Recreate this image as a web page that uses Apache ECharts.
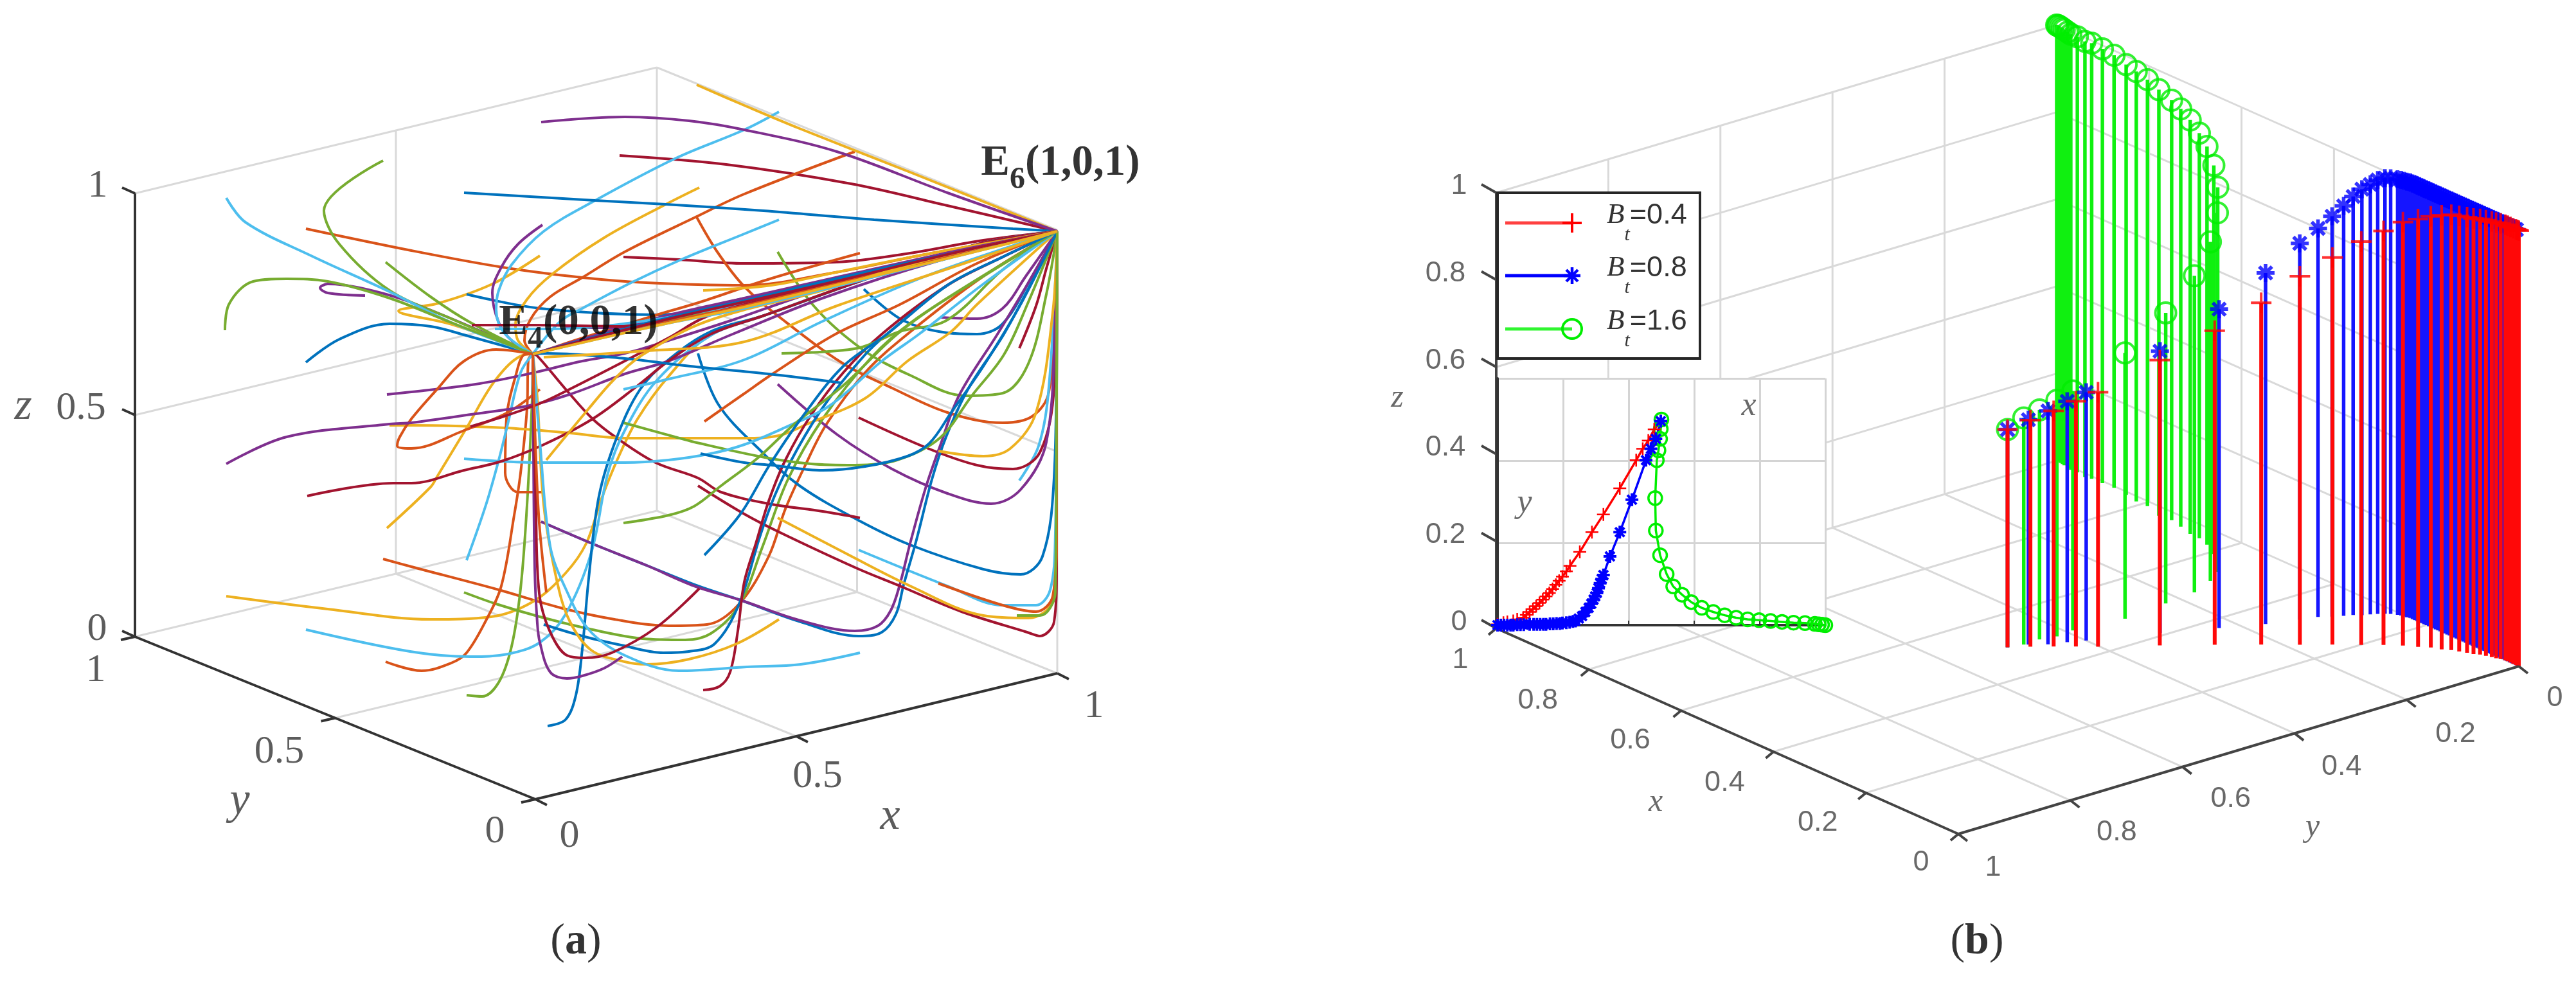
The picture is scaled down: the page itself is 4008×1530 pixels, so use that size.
<!DOCTYPE html>
<html><head><meta charset="utf-8">
<style>html,body{margin:0;padding:0;background:#fff}#c{width:4008px;height:1530px}</style>
<script src="https://cdn.jsdelivr.net/npm/echarts@6/dist/echarts.min.js"></script>
</head><body><div id="c"></div>
<script>
// ---------- panel (a): trajectories, in view-plane units of the hidden axes
const E4=[414.5,275.5], E6=[822.5,180];
const trajBlue=[
[[238,282],[264,264],[303,252],[335,254],[366,262],E4],
[[363,229],[420,240],[513,245],[580,232],[680,212],[760,194],E6],
[[361,150],[463,156],[518,159],[594,164],[680,171],[788,178],E6],
[[672,225],[702,249],[737,259],[760,260],[780,252],[803,215],E6],
[[543,275],[559,315],[593,352],[622,378],[668,405],[708,424],[765,443],[794,447],[811,433],[820,372],[822,272],E6],
[[421,406],[463,424],[503,440],[543,456],[576,467],[623,484],[668,495],[686,492],[697,478],[703,455],[713,420],[725,373],[736,340],[753,303],[781,260],[805,215],E6],
[[423,486],[453,495],[483,502],[516,508],[536,507],[556,501],[575,470],[591,418],[603,385],[620,350],[643,313],[673,276],[690,260],[737,222],[780,200],E6],
[[426,565],[440,560],[448,541],[453,505],[458,450],[466,386],[480,340],[498,303],[520,280],[553,258],[593,246],[680,215],[765,189],E6],
[[545,353],[579,360],[600,362],[640,366],[673,363],[706,355],[723,345],[740,321],[765,285],[795,235],E6],
[[548,432],[576,400],[598,363],[623,326],[656,285],[690,260],[737,222],[780,200],E6],
[[655,298],[598,291],[537,285],[486,279],[426,275],E4],
[E4,[513,249],[579,234],[650,217],[750,195],E6]];
const trajOrange=[
[[238,178],[320,195],[391,208],[453,216],[503,220],[579,222],[650,212],[725,197],E6],
[[665,118],[579,151],[541,169],[486,196],[453,216],[428,231],[413,248],[408,265],E4],
[[542,169],[558,196],[579,223],[608,248],[656,283],[694,302],[737,321],[780,329],[803,324],[816,305],[822,215],E6],
[[298,435],[320,441],[388,459],[436,473],[478,482],[520,487],[550,486],[575,470],[598,433],[611,396],[626,363],[643,330],[673,290],[706,260],[765,215],E6],
[[669,197],[599,217],[545,235],[511,245],[450,264],[420,274],E4],
[[300,515],[328,522],[351,516],[363,508],[378,483],[390,456],[400,401],[405,368],[410,318],[411,280],E4],
[[423,383],[403,383],[393,368],[394,326],[401,293],[408,276],E4],
[[420,303],[395,321],[361,335],[320,349],[309,347],[311,340],[320,326],[340,303],[361,281],[386,272],E4],
[[548,328],[578,307],[601,291],[650,260],[700,237],[760,205],E6],
[[730,454],[780,471],[806,476],[819,464],[822,415],[822,300],E6],
[[425,461],[419,400],[415,300],E4],
[E4,[513,252],[579,238],[650,221],[750,197],E6]];
const trajYellow=[
[[420,199],[383,221],[341,236],[310,242],[350,252],[385,264],E4],
[[544,146],[518,159],[470,185],[430,213],[410,233],[401,253],[403,265],E4],
[[542,66],[579,82],[622,100],[708,134],E6],
[[176,464],[255,474],[335,482],[382,480],[415,468],[440,446],[456,423],[468,388],[481,356],[496,326],[520,293],[553,260],[593,246],[680,215],[765,189],E6],
[[301,411],[335,379],[340,371],[363,333],[386,295],[408,276],E4],
[[303,331],[320,331],[393,333],[443,337],[486,341],[536,341],[579,341],[606,339],[628,330],[673,310],[706,281],[740,258],[760,237],E6],
[[730,351],[765,355],[786,349],[806,321],[819,243],E6],
[[605,403],[651,427],[708,456],[765,479],[800,481],[819,467],[822,400],[822,260],E6],
[[606,482],[573,501],[536,513],[503,517],[486,515],[460,506],[443,483],[433,451],[423,393],[418,310],E4],
[[547,226],[600,222],[650,212],[725,197],E6],
[[423,278],[503,273],[579,266],[651,238],[750,205],E6],
[[425,358],[458,318],[478,295],[500,276],[550,250],[640,226],[730,200],E6],
[E4,[513,253],[579,239],[650,222],[750,198],E6]];
const trajPurple=[
[[284,230],[255,228],[249,224],[255,221],[280,224],[319,235],E4],
[[422,175],[403,190],[390,208],[383,228],[388,251],[398,265],E4],
[[421,95],[486,91],[536,94],[579,101],[651,118],[737,150],E6],
[[732,247],[760,248],[780,240],[798,215],E6],
[[605,299],[651,338],[694,365],[737,384],[771,392],[794,381],[814,344],[821,243],E6],
[[421,406],[463,424],[503,440],[540,456],[576,467],[623,483],[665,491],[683,487],[693,475],[700,455],[708,423],[720,380],[731,348],[746,308],[776,260],[800,220],E6],
[[301,307],[320,305],[370,299],[411,291],[453,281],[486,275],[520,265],[570,249],[640,225],[730,200],E6],
[[176,361],[223,340],[303,330],[320,329],[370,322],[410,316],[443,307],[486,291],[520,281],[570,260],[640,232],[730,203],E6],
[[484,511],[470,520],[453,526],[441,528],[428,523],[420,500],[418,485],[416,443],[415,350],E4],
[[440,255],[486,255],[536,246],[600,232],[680,212],[760,194],E6],
[E4,[513,247],[579,232],[650,216],[750,194],E6]];
const trajGreen=[
[[298,125],[252,164],[264,190],[303,226],[351,248],E4],
[[300,204],[335,231],[366,251],E4],
[[175,257],[178,237],[197,219],[223,217],[255,219],[303,232],[351,251],E4],
[[605,196],[633,238],[671,272],[708,292],[751,308],[780,306],[800,283],[814,229],E6],
[[361,461],[386,470],[420,480],[461,490],[500,497],[533,498],[553,493],[575,471],[593,426],[613,373],[640,326],[678,278],[710,250],[765,215],E6],
[[363,541],[375,542],[388,531],[398,503],[405,458],[410,393],[414,310],E4],
[[485,329],[525,340],[540,344],[595,356],[631,361],[665,362],[698,358],[731,341],[756,308],[781,276],[800,235],E6],
[[608,275],[667,271],[700,258],[737,249],[780,210],E6],
[[485,407],[520,401],[540,394],[561,378],[590,356],[618,330],[656,300],[698,260],[737,232],E6],
[[791,479],[809,479],[821,461],[822,300],E6],
[E4,[513,251],[579,236],[650,220],[750,196],E6]];
const trajCyan=[
[[176,154],[191,173],[242,199],[303,227],[351,251],E4],
[[606,87],[579,101],[526,123],[463,156],[423,180],[398,206],[388,226],[386,241],[393,260],E4],
[[606,171],[579,182],[530,202],[491,220],[453,240],[436,250],E4],
[[793,374],[808,347],[816,301],E6],
[[668,428],[737,456],[780,471],[806,471],[817,459],[821,415],[822,301],E6],
[[238,490],[319,507],[366,511],[395,509],[420,500],[440,478],[460,430],[473,368],[486,335],[511,296],[553,261],[593,246],[680,215],[765,189],E6],
[[363,436],[378,393],[388,358],[395,330],[405,290],E4],
[[361,357],[420,360],[486,360],[520,358],[553,353],[579,346],[610,333],[645,316],[686,281],[715,260],[765,221],E6],
[[669,508],[623,517],[581,519],[528,522],[486,510],[458,490],[440,458],[428,425],[420,344],E4],
[[485,303],[520,295],[579,280],[640,250],[720,215],E6],
[[385,256],[428,256],[500,250],[600,232],[680,212],[760,194],E6],
[E4,[513,253],[579,240],[650,223],[750,198],E6]];
const trajRed=[
[[482,121],[565,128],[662,143],[737,160],E6],
[[485,200],[528,202],[579,205],[651,204],[708,197],[765,187],E6],
[[793,271],[806,238],[814,209],E6],
[[668,325],[722,349],[760,362],[788,365],[809,352],[820,301],E6],
[[669,403],[640,398],[598,392],[561,383],[543,372],[510,360],[480,341],[461,326],[441,304],[418,277],E4],
[[543,378],[579,400],[606,414],[666,442],[700,456],[748,476],[799,492],[809,495],[820,484],[822,444],[822,300],E6],
[[547,537],[560,534],[568,523],[574,491],[579,453],[588,423],[598,390],[611,358],[631,323],[656,290],[686,260],[737,222],[780,200],E6],
[[239,386],[306,376],[320,376],[361,366],[390,359],[423,346],[461,326],[495,301],[520,281],[553,260],[593,246],[680,215],[765,189],E6],
[[366,332],[395,323],[420,314],[441,304],[486,281],[520,263],[553,245],[640,222],[730,199],E6],
[[544,458],[511,488],[476,508],[455,512],[441,510],[430,496],[421,471],[418,441],[417,400],[415,300],E4],
[[367,253],[416,253],[486,254],[600,232],[700,207],E6],
[E4,[513,250],[579,235],[650,219],[750,195],E6]];
const trajColors=['#0072BD','#D95319','#EDB120','#7E2F8E','#77AC30','#4DBEEE','#A2142F'];
const trajGroups=[trajBlue,trajOrange,trajYellow,trajPurple,trajGreen,trajCyan,trajRed];

// ---------- panel (b): stem points [x, y, z]
const stemRed=[[.5,.5,.5],[.482,.474,.52],[.462,.449,.541],[.443,.425,.563],[.423,.402,.584],[.373,.333,.655],[.327,.273,.721],[.287,.223,.785],[.253,.182,.846],[.225,.147,.889],[.199,.117,.926],[.18,.093,.95],[.161,.074,.972],[.144,.061,.982],[.131,.049,.99],[.116,.042,.997],[.106,.033,.999],[.095,.028,1],[.084,.023,1],[.075,.019,1],[.068,.013,1],[.059,.01,1],[.05,.007,1],[.043,.005,1],[.037,.002,1],[.029,0,1],[.024,0,1],[.018,0,1],[.012,0,1],[.006,0,1],[.003,0,1],[0,0,1]];
const stemBlue=[[.5,.5,.5],[.49,.471,.516],[.473,.45,.536],[.463,.424,.553],[.451,.4,.57],[.409,.303,.647],[.372,.228,.732],[.343,.169,.806],[.326,.122,.864],[.318,.096,.892],[.307,.08,.919],[.299,.066,.941],[.293,.054,.961],[.285,.045,.978],[.28,.034,.987],[.275,.025,.996],[.269,.017,1],[.264,.011,1],[.255,.006,1],[.25,.004,1],[.245,.003,1],[.24,.002,1],[.235,0,1],[.23,0,1],[.225,0,1],[.22,0,1],[.215,0,1],[.21,0,1],[.205,0,1],[.2,0,1],[.195,0,1],[.19,0,1],[.185,0,1],[.18,0,1],[.175,0,1],[.17,0,1],[.165,0,1],[.16,0,1],[.155,0,1],[.15,0,1],[.145,0,1],[.14,0,1],[.135,0,1],[.13,0,1],[.125,0,1],[.12,0,1],[.115,0,1],[.11,0,1],[.105,0,1],[.1,0,1],[.095,0,1],[.09,0,1],[.085,0,1],[.08,0,1],[.075,0,1],[.07,0,1],[.065,0,1],[.06,0,1],[.055,0,1],[.05,0,1],[.045,0,1],[.04,0,1],[.035,0,1],[.03,0,1],[.025,0,1],[.02,0,1],[.015,0,1],[.01,0,1],[.005,0,1]];
const stemGreen=[[.5,.5,.5],[.494,.476,.52],[.495,.447,.527],[.489,.421,.542],[.492,.39,.55],[.481,.306,.61],[.49,.226,.667],[.497,.169,.727],[.517,.124,.778],[.537,.095,.824],[.563,.073,.862],[.592,.056,.892],[.625,.041,.914],[.65,.034,.93],[.671,.033,.95],[.7,.026,.959],[.727,.02,.964],[.751,.023,.978],[.789,.012,.979],[.812,.013,.987],[.84,.008,.988],[.871,.004,.993],[.895,.005,.997],[.917,.006,1],[.928,.009,1],[.948,.006,1],[.961,.007,1],[.97,.005,1],[.98,.003,1],[.985,.002,1],[.99,.001,1],[.995,0,1],[.998,0,1],[1,0,1]];

// ---------- inset: [horizontal, vertical] on its own axes
const insetRed=[[0,.002],[.018,.006],[.03,.008],[.048,.01],[.06,.014],[.078,.018],[.088,.025],[.098,.032],[.108,.039],[.118,.046],[.128,.054],[.138,.062],[.148,.07],[.158,.078],[.168,.088],[.178,.098],[.188,.108],[.198,.118],[.21,.131],[.221,.144],[.251,.178],[.288,.226],[.323,.269],[.373,.333],[.423,.401],[.443,.429],[.46,.449],[.478,.476],[.498,.496]];
const insetBlue=[[0,0],[.01,0],[.02,0],[.03,0],[.04,0],[.048,0],[.06,.001],[.07,.001],[.08,.001],[.098,.002],[.11,.002],[.12,.002],[.13,.002],[.14,.002],[.148,.002],[.16,.003],[.17,.003],[.18,.004],[.19,.004],[.198,.005],[.21,.006],[.22,.007],[.23,.009],[.238,.01],[.248,.016],[.258,.022],[.268,.032],[.278,.042],[.286,.052],[.293,.062],[.298,.07],[.303,.078],[.308,.09],[.313,.102],[.318,.112],[.323,.122],[.343,.167],[.373,.226],[.41,.305],[.453,.401],[.468,.429],[.483,.453],[.498,.496]];
const insetGreen=[[.5,.5],[.498,.477],[.496,.453],[.491,.425],[.486,.401],[.481,.309],[.483,.23],[.496,.17],[.516,.124],[.536,.094],[.563,.074],[.591,.056],[.623,.042],[.658,.032],[.693,.024],[.728,.018],[.763,.014],[.798,.012],[.833,.01],[.868,.008],[.903,.006],[.938,.005],[.968,.003],[.98,.002],[.99,.001],[1,0]];

// ---------- axes ticks and texts
const aTicks=[0,.5,1], aTickText=['0','0.5','1'];
const bTicks=[0,.2,.4,.6,.8,1], bTickText=['0','0.2','0.4','0.6','0.8','1'];
const aZOff=[[-59,-11],[-84,-10],[-58,-11]], aYOff=[[-63,51],[-87,53],[-61,53]], aXOff=[[53,58],[33,63],[57,52]];
const bZOff=[[-58,-9],[-79,-10],[-79,-10],[-79,-10],[-79,-10],[-58,-10]];
const bXOff=[[-58,45],[-75,47],[-76,49],[-79,47],[-79,49],[-56,50]];
const bYOff=[[56,50],[76,53],[73,52],[75,50],[72,50],[54,53]];
const legendText=['=0.4','=0.8','=1.6'];

// ---------- projections of the cube coordinates onto the hidden view-plane axes
const Pa=(x,y,z)=>[(833+812*x-623*y)/2,(1244-196*x-253*y-690*z)/2];
const Pb=(x,y,z)=>[(3919-719*x-872*y)/2,(1037-320*x+261*y-678*z)/2];
const gap=[NaN,NaN];
const add=(p,o)=>[p[0]+o[0]/2,p[1]+o[1]/2];
const seg=(o,a,b)=>{o.push(a,b,gap)};

// grids
const gridA=[],axisA=[],gridB=[],axisB=[];
[.5,1].forEach(v=>{
  seg(gridA,Pa(v,1,0),Pa(v,1,1));
  seg(gridA,Pa(1,1-v,0),Pa(1,1-v,1));
  seg(gridA,Pa(0,1,v),Pa(1,1,v)); seg(gridA,Pa(1,1,v),Pa(1,0,v));
  seg(gridA,Pa(v,0,0),Pa(v,1,0)); seg(gridA,Pa(0,v,0),Pa(1,v,0));
});
seg(axisA,Pa(0,1,0),Pa(0,1,1)); seg(axisA,Pa(0,1,0),Pa(0,0,0)); seg(axisA,Pa(0,0,0),Pa(1,0,0));
aTicks.forEach(t=>{
  const z=Pa(0,1,t); seg(axisA,z,add(z,[-20,-9]));
  const y=Pa(0,t,0); seg(axisA,y,add(y,[-22,5]));
  const x=Pa(t,0,0); seg(axisA,x,add(x,[18,9]));
});
bTicks.forEach(t=>{
  seg(gridB,Pb(1,t,0),Pb(1,t,1)); seg(gridB,Pb(t,0,0),Pb(t,0,1));
  seg(gridB,Pb(1,1,t),Pb(1,0,t)); seg(gridB,Pb(1,0,t),Pb(0,0,t));
  seg(gridB,Pb(t,0,0),Pb(t,1,0)); seg(gridB,Pb(0,t,0),Pb(1,t,0));
  const z=Pb(1,1,t); seg(axisB,z,add(z,[-23,-13]));
  const x=Pb(t,1,0); seg(axisB,x,add(x,[-12,10]));
  const y=Pb(0,t,0); seg(axisB,y,add(y,[14,11]));
});
seg(axisB,Pb(1,1,0),Pb(1,1,1)); seg(axisB,Pb(1,1,0),Pb(0,1,0)); seg(axisB,Pb(0,1,0),Pb(0,0,0));

const plain=(data,color,width,z,extra)=>Object.assign({type:'line',data,xAxisIndex:0,yAxisIndex:0,showSymbol:false,symbol:'none',clip:false,silent:true,z,
  lineStyle:{color,width,cap:'butt'},animation:false},extra||{});
const labels=(data,font,z,rich)=>({type:'scatter',xAxisIndex:0,yAxisIndex:0,data,symbolSize:1,itemStyle:{color:'rgba(0,0,0,0)'},z:z||10,clip:false,silent:true,animation:false,
  label:Object.assign({show:true,position:'inside',align:'center',verticalAlign:'middle',formatter:p=>p.data[2],rich:rich||{}},font)});

const series=[];
series.push(plain(gridA,'#d9d9d9',3,1),plain(gridB,'#d9d9d9',3,1));
series.push(plain(axisA,'#333',4,3),plain(axisB,'#444',4,3));

// trajectories, cycling through the colour order
const maxN=Math.max(...trajGroups.map(g=>g.length));
for(let i=0;i<maxN;i++){trajGroups.forEach((g,k)=>{ if(g[i]) series.push(plain(g[i],trajColors[k],4,2,{smooth:.35})); });}

// stems and their markers
const stems=list=>{const o=[];list.forEach(p=>seg(o,Pb(p[0],p[1],0),Pb(p[0],p[1],p[2])));return o;};
const tops=list=>list.map(p=>Pb(p[0],p[1],p[2]));
const PLUS='path://M-2,-16H2V16H-2Z M-16,-2H16V2H-16Z';
const STAR='path://M-2,-10H2V10H-2Z M-10,-2H10V2H-10Z M-8.5,-5.7L-5.7,-8.5L8.5,5.7L5.7,8.5Z M5.7,-8.5L8.5,-5.7L-5.7,8.5L-8.5,5.7Z';
const mark=(data,symbol,size,style,z)=>({type:'scatter',data,symbol,symbolSize:size,itemStyle:style,z,clip:false,silent:true,animation:false,xAxisIndex:0,yAxisIndex:0});
series.push(plain(stems(stemGreen),'#10f010',5.5,2));
series.push(mark(tops(stemGreen),'circle',32,{color:'rgba(0,0,0,0)',borderColor:'#00ee00',borderWidth:4},2));
series.push(plain(stems(stemBlue),'#1515ff',5.5,2.1));
series.push(mark(tops(stemBlue),STAR,28,{color:'#0000ff'},2.1));
series.push(plain(stems(stemRed),'#ff0808',6,2.2));
series.push(mark(tops(stemRed),PLUS,32,{color:'#ff0000'},2.2));

// inset lines
const inset=(data,color,symbol,size,style)=>({type:'line',data,xAxisIndex:1,yAxisIndex:1,z:5,symbol,symbolSize:size,showSymbol:true,showAllSymbol:true,clip:false,silent:true,animation:false,
  lineStyle:{color,width:3.5},itemStyle:style});
series.push(inset(insetGreen,'#00ee00','circle',21,{color:'rgba(0,0,0,0)',borderColor:'#00ee00',borderWidth:3.5}));
series.push(inset(insetRed,'#ff0000',PLUS,20,{color:'#ff0000'}));
series.push(inset(insetBlue,'#0000ff',STAR,20,{color:'#0000ff'}));

// tick labels
const serif='Liberation Serif',sans='Liberation Sans';
const fa={fontFamily:serif,fontSize:62,color:'#333'};
const fb={fontFamily:sans,fontSize:45,color:'#444'};
const at=(p,o,t)=>{const q=add(p,o);return [q[0],q[1],t];};
series.push(labels(aTicks.map((t,i)=>at(Pa(0,1,t),aZOff[i],aTickText[i])).concat(
  aTicks.map((t,i)=>at(Pa(0,t,0),aYOff[i],aTickText[i])),aTicks.map((t,i)=>at(Pa(t,0,0),aXOff[i],aTickText[i]))),fa));
series.push(labels(bTicks.map((t,i)=>at(Pb(1,1,t),bZOff[i],bTickText[i])).concat(
  bTicks.map((t,i)=>at(Pb(t,1,0),bXOff[i],bTickText[i])),bTicks.map((t,i)=>at(Pb(0,t,0),bYOff[i],bTickText[i]))),fb,6));
// axis names
const ital=(sz,c)=>({fontFamily:serif,fontStyle:'italic',fontSize:sz,color:c});
series.push(labels([[18,317,'z'],[186.5,624,'y'],[692.5,636,'x']],ital(70,'#333')));
series.push(labels([[1087,310,'z'],[1288,624.5,'x'],[1799,644,'y']],ital(50,'#444'),6));
series.push(labels([[1360.5,316,'x'],[1186,391.5,'y']],ital(52,'#444'),6));
// point captions and panel captions
const capRich={b:{fontFamily:serif,fontWeight:'bold',fontSize:67,color:'#000',verticalAlign:'top',lineHeight:70},
  s:{fontFamily:serif,fontWeight:'bold',fontSize:48,color:'#000',verticalAlign:'top',lineHeight:48,padding:[36,0,0,0]}};
series.push(labels([[825,128,'{b|E}{s|6}{b|(1,0,1)}'],[450,252,'{b|E}{s|4}{b|(0,0,1)}']],{fontFamily:serif,fontSize:67},11,capRich));
const panRich={p:{fontFamily:serif,fontSize:68,color:'#000'},k:{fontFamily:serif,fontWeight:'bold',fontSize:68,color:'#000'}};
series.push(labels([[448,733,'{p|(}{k|a}{p|)}'],[1538,733,'{p|(}{k|b}{p|)}']],{fontFamily:serif,fontSize:68},11,panRich));

// legend drawn on top of the inset
const legY=[347,429,512], legC=['#ff4040','#0000ff','#30f530'];
const legendEls=[{type:'rect',shape:{x:2330,y:300,width:315,height:258},style:{fill:'#fff',stroke:'#262626',lineWidth:4},z:20}];
const line=(x1,y1,x2,y2,c,w)=>({type:'line',shape:{x1,y1,x2,y2},style:{stroke:c,lineWidth:w},z:21});
legY.forEach((y,i)=>{
  legendEls.push(line(2342,y,2446,y,legC[i],5));
  legendEls.push({type:'text',x:2500,y:y-34,z:21,style:{text:'{i|B}{t|t}{n|'+legendText[i]+'}',
    rich:{i:{fontFamily:serif,fontStyle:'italic',fontSize:45,fill:'#333',verticalAlign:'top',lineHeight:50},
      t:{fontFamily:serif,fontStyle:'italic',fontSize:30,fill:'#333',verticalAlign:'top',lineHeight:30,padding:[38,0,0,0]},
      n:{fontFamily:sans,fontSize:45,fill:'#333',verticalAlign:'top',lineHeight:50}}}});
});
legendEls.push(line(2446,legY[0]-15,2446,legY[0]+15,'#ff0000',4),line(2431,legY[0],2461,legY[0],'#ff0000',4));
[[0,13],[13,0],[9,9],[9,-9]].forEach(d=>legendEls.push(line(2446-d[0],legY[1]-d[1],2446+d[0],legY[1]+d[1],'#0000ff',4.5)));
legendEls.push({type:'circle',shape:{cx:2446,cy:legY[2],r:15},style:{fill:'rgba(0,0,0,0)',stroke:'#00ee00',lineWidth:4},z:21});

const chart=echarts.init(document.getElementById('c'),null,{renderer:'canvas',width:4008,height:1530});
chart.setOption({
  animation:false,backgroundColor:'#fff',
  grid:[{left:0,top:0,width:4008,height:1530,show:false},
        {left:2330,top:589,width:510,height:384,show:true,backgroundColor:'#fff',borderWidth:0,z:3}],
  xAxis:[{type:'value',gridIndex:0,min:0,max:2004,show:false},
    {type:'value',gridIndex:1,min:0,max:1,interval:.2,z:4,axisLine:{onZero:false,lineStyle:{color:'#333',width:4}},axisTick:{show:true,inside:true,length:7,lineStyle:{color:'#333',width:2}},axisLabel:{show:false},splitLine:{show:true,lineStyle:{color:'#d4d4d4',width:3}}}],
  yAxis:[{type:'value',gridIndex:0,min:0,max:765,inverse:true,show:false},
    {type:'value',gridIndex:1,min:0,max:.6,interval:.2,z:4,axisLine:{onZero:false,lineStyle:{color:'#333',width:4}},axisTick:{show:false},axisLabel:{show:false},splitLine:{show:true,lineStyle:{color:'#d4d4d4',width:3}}}],
  series,
  graphic:{elements:legendEls}
});
</script></body></html>
